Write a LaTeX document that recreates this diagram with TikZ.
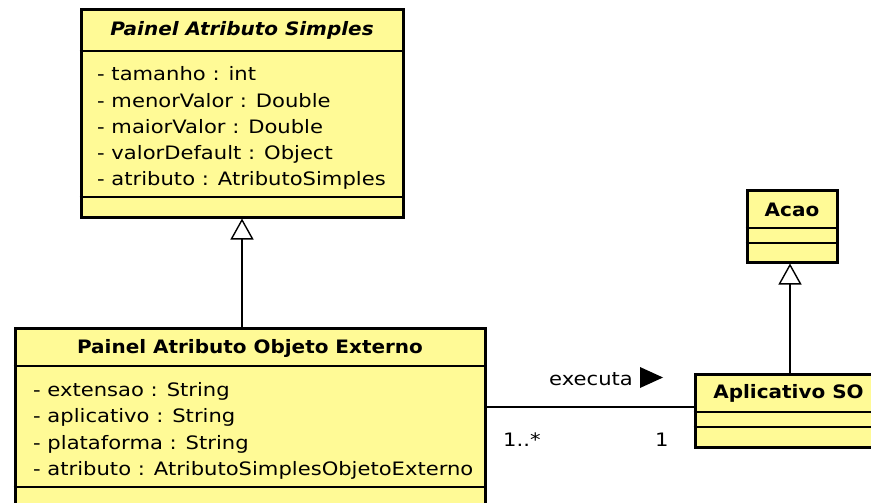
\documentclass[tikz,border=0pt]{standalone}
\usepackage{fontspec}
\usetikzlibrary{arrows.meta}
\setmainfont{DejaVu Sans}
\newfontfamily\umlfont[FakeStretch=1.14]{DejaVu Sans}
\newfontfamily\umlbold[FakeStretch=1.08]{DejaVu Sans}
\definecolor{umlyellow}{RGB}{255,250,150}

\begin{document}
\begin{tikzpicture}[x=1pt,y=-1pt,
  classbox/.style={draw=black, line width=3pt, fill=umlyellow, inner sep=0pt,
                   anchor=north west, rectangle},
  sepline/.style={line width=1.4pt},
  conn/.style={line width=1.4pt},
  ctitle/.style={font=\umlbold\bfseries\fontsize{18.5}{22}\selectfont, inner sep=0pt},
  attr/.style={font=\umlfont\fontsize{18.5}{22}\selectfont, inner sep=0pt, anchor=base west},
  lbl/.style={font=\umlfont\fontsize{18.5}{22}\selectfont, inner sep=0pt},
  gen/.style={conn, -{Triangle[open, width=23pt, length=21pt, line width=1.4pt]}},
]
\useasboundingbox (0,0) rectangle (871,503);
\fill[white] (0,0) rectangle (871,503);
\clip (0,0) rectangle (871,503);

% --- Painel Atributo Simples (abstract) ---
\node[classbox, minimum width=322pt, minimum height=207pt] (pas) at (79.5,8.5) {};
\node[ctitle, font=\umlbold\bfseries\itshape\fontsize{18.5}{22}\selectfont] (pastitle)
  at (pas.north |- 0,30) {Painel Atributo Simples};
\draw[sepline] (pas.west |- 0,51) -- (pas.east |- 0,51);
\draw[sepline] (pas.west |- 0,197) -- (pas.east |- 0,197);
\foreach \t [count=\i from 0] in {- tamanho : int, - menorValor : Double,
    - maiorValor : Double, - valorDefault : Object, - atributo : AtributoSimples}
  \node[attr] (pasattr\i) at (97,81+26.2*\i) {\t};

% --- Painel Atributo Objeto Externo ---
\node[classbox, minimum width=470pt, minimum height=200pt] (poe) at (13.5,326.5) {};
\node[ctitle] (poetitle) at (poe.north |- 0,348) {Painel Atributo Objeto Externo};
\draw[sepline] (poe.west |- 0,366) -- (poe.east |- 0,366);
\draw[sepline] (poe.west |- 0,487) -- (poe.east |- 0,487);
\foreach \t [count=\i from 0] in {- extensao : String, - aplicativo : String,
    - plataforma : String, - atributo : AtributoSimplesObjetoExterno}
  \node[attr] (poeattr\i) at (33,396.5+26.3*\i) {\t};

% --- Acao ---
\node[classbox, minimum width=90pt, minimum height=72pt] (acao) at (745.5,188.5) {};
\node[ctitle] (acaotitle) at (acao.north |- 0,210) {Acao};
\draw[sepline] (acao.west |- 0,228) -- (acao.east |- 0,228);
\draw[sepline] (acao.west |- 0,243) -- (acao.east |- 0,243);

% --- Aplicativo SO ---
\node[classbox, minimum width=187pt, minimum height=73pt] (apso) at (693.5,372.5) {};
\node[ctitle] (apsotitle) at (apso.north |- 0,393) {Aplicativo SO};
\draw[sepline] (apso.west |- 0,412) -- (apso.east |- 0,412);
\draw[sepline] (apso.west |- 0,427) -- (apso.east |- 0,427);

% --- generalizations ---
\draw[gen] (poe.north -| pas.south) -- (pas.south);
\draw[gen] ([xshift=-2pt]apso.north -| acao.south) -- ([xshift=-2pt]acao.south);

% --- association "executa" ---
\draw[conn] (poe.east |- 0,407) -- (apso.west |- 0,407);
\node[lbl, anchor=base east] (exe) at (633,385) {executa};
\fill ([xshift=7pt,yshift=18pt]exe.base east) -- ++(0,21) -- ++(23,-10.5) -- cycle;
\node[lbl, anchor=base west] (multmany) at (503,446) {1..*};
\node[lbl, anchor=base west] (multone) at (655,446) {1};
\end{tikzpicture}
\end{document}
